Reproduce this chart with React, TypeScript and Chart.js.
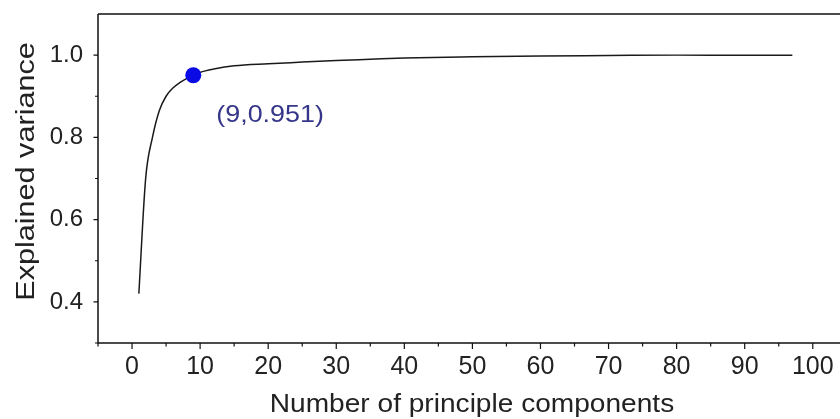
import { useEffect, useRef } from "react";
import { Chart, registerables } from "chart.js";

Chart.register(...registerables);

const components = [1, 2, 3, 4, 5, 6, 7, 8, 9, 10, 12, 15, 20, 25, 30, 35, 40, 50, 60, 70, 80, 90, 97];
const explained = [0.42, 0.70, 0.80, 0.865, 0.90, 0.92, 0.933, 0.943, 0.951, 0.958, 0.966, 0.974, 0.979, 0.983, 0.987, 0.990, 0.993, 0.996, 0.998, 0.999, 1.0, 1.0, 1.0];
const highlightX = 9;
const highlightY = 0.951;
const annotationText = "(9,0.951)";
const xMajor = [0, 10, 20, 30, 40, 50, 60, 70, 80, 90, 100];
const xMinor = [-5, 5, 15, 25, 35, 45, 55, 65, 75, 85, 95];
const yMajor = [0.4, 0.6, 0.8, 1.0];
const yMinor = [0.3, 0.5, 0.7, 0.9];
const xTitle = "Number of principle components";
const yTitle = "Explained variance";

const FONT = "'Liberation Sans', Arial, sans-serif";

export default function App() {
  const ref = useRef<HTMLCanvasElement>(null);

  useEffect(() => {
    document.body.style.margin = "0";
    const canvas = ref.current!;

    const decor = {
      id: "decor",
      afterDatasetsDraw(chart: any) {
        const ctx = chart.ctx as CanvasRenderingContext2D;
        const { left, top, right, bottom } = chart.chartArea;
        const xs = chart.scales.x;
        const ys = chart.scales.y;
        ctx.save();
        ctx.strokeStyle = "#111";
        ctx.lineWidth = 1.5;
        ctx.beginPath();
        ctx.moveTo(left, top);
        ctx.lineTo(left, bottom);
        ctx.lineTo(right, bottom);
        ctx.moveTo(left, top);
        ctx.lineTo(right, top);
        ctx.stroke();

        ctx.lineWidth = 1.2;
        ctx.beginPath();
        xMajor.forEach((v) => {
          const p = xs.getPixelForValue(v);
          ctx.moveTo(p, bottom);
          ctx.lineTo(p, bottom + 6);
        });
        xMinor.forEach((v) => {
          const p = xs.getPixelForValue(v);
          ctx.moveTo(p, bottom);
          ctx.lineTo(p, bottom + 3.5);
        });
        yMajor.forEach((v) => {
          const p = ys.getPixelForValue(v);
          ctx.moveTo(left, p);
          ctx.lineTo(left - 4.5, p);
        });
        yMinor.forEach((v) => {
          const p = ys.getPixelForValue(v);
          ctx.moveTo(left, p);
          ctx.lineTo(left - 3, p);
        });
        ctx.stroke();

        // annotation
        const px = xs.getPixelForValue(highlightX);
        const py = ys.getPixelForValue(highlightY);
        ctx.fillStyle = "#36368a";
        ctx.font = `24px ${FONT}`;
        ctx.textAlign = "left";
        ctx.textBaseline = "middle";
        ctx.save();
        ctx.translate(px + 23, py + 40);
        ctx.scale(1.12, 1);
        ctx.fillText(annotationText, 0, 0);
        ctx.restore();

        // x title
        ctx.fillStyle = "#222";
        ctx.font = `26.5px ${FONT}`;
        ctx.textAlign = "center";
        ctx.textBaseline = "alphabetic";
        ctx.save();
        ctx.translate(472, 411.5);
        ctx.scale(1.06, 1);
        ctx.fillText(xTitle, 0, 0);
        ctx.restore();

        // y title
        ctx.font = `25.5px ${FONT}`;
        ctx.save();
        ctx.translate(33.5, 171.5);
        ctx.rotate(-Math.PI / 2);
        ctx.scale(1.2, 1);
        ctx.fillText(yTitle, 0, 0);
        ctx.restore();

        ctx.restore();
      },
    };

    const chart = new Chart(canvas, {
      type: "line",
      data: {
        datasets: [
          {
            type: "scatter",
            data: [{ x: highlightX, y: highlightY }],
            pointRadius: 8,
            pointBackgroundColor: "#0a0ae6",
            pointBorderColor: "#0a0ae6",
            pointBorderWidth: 0,
            order: 0,
          } as any,
          {
            data: components.map((c, i) => ({ x: c, y: explained[i] })),
            borderColor: "#1a1a1a",
            borderWidth: 1.5,
            pointRadius: 0,
            fill: false,
            cubicInterpolationMode: "monotone",
            order: 1,
          },
        ],
      },
      options: {
        responsive: false,
        animation: false,
        events: [],
        layout: { autoPadding: false, padding: { top: 14, right: 0, left: 0, bottom: 0 } },
        plugins: {
          legend: { display: false },
          tooltip: { enabled: false },
          title: { display: false },
        },
        scales: {
          x: {
            type: "linear",
            min: -5,
            max: 104,
            grid: { display: false, drawTicks: false },
            border: { display: false },
            afterBuildTicks: (s: any) => {
              s.ticks = xMajor.map((v) => ({ value: v }));
            },
            afterFit: (s: any) => {
              s.height = 76;
              s.paddingLeft = 0;
              s.paddingRight = 0;
            },
            ticks: {
              color: "#222",
              font: { family: FONT, size: 25 },
              padding: 9,
              maxRotation: 0,
              autoSkip: false,
              callback: (v: any) => String(v),
            },
          },
          y: {
            type: "linear",
            min: 0.3,
            max: 1.1,
            grid: { display: false, drawTicks: false },
            border: { display: false },
            afterBuildTicks: (s: any) => {
              s.ticks = yMajor.map((v) => ({ value: v }));
            },
            afterFit: (s: any) => {
              s.width = 98;
              s.paddingTop = 0;
              s.paddingBottom = 0;
            },
            ticks: {
              color: "#222",
              font: { family: FONT, size: 24 },
              padding: 15,
              autoSkip: false,
              callback: (v: any) => Number(v).toFixed(1),
            },
          },
        },
      },
      plugins: [decor],
    });

    return () => chart.destroy();
  }, []);

  return (
    <div style={{ width: 840, height: 419, background: "#fff" }}>
      <canvas ref={ref} width={840} height={419} style={{ display: "block" }} />
    </div>
  );
}
